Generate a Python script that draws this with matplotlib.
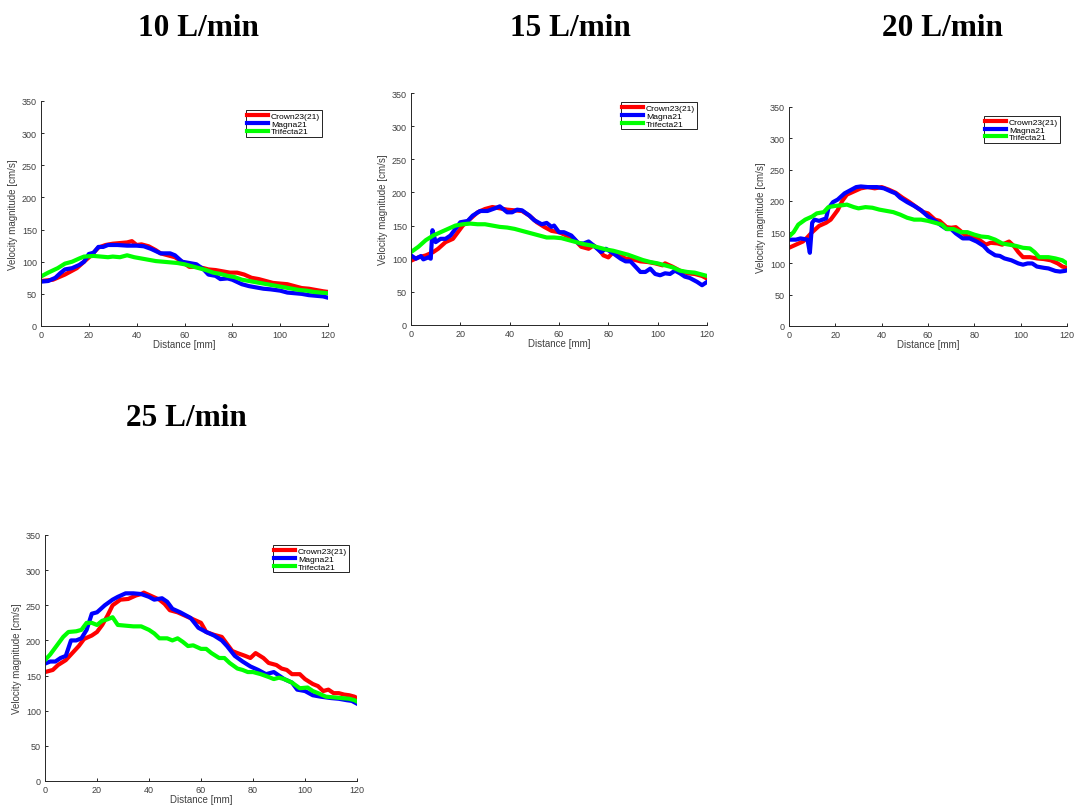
import matplotlib
matplotlib.use('Agg')
import matplotlib.pyplot as plt

# ---- 10 L/min ----
x10_crown = [0, 5, 10, 15, 18, 21, 24, 27, 30, 33, 36, 38, 40, 42, 45, 48, 50, 53, 56, 59, 62, 65, 68, 70, 73, 76, 79, 82, 85, 88, 91, 94, 97, 100, 103, 106, 109, 112, 115, 118, 120]
y10_crown = [70, 72, 80, 90, 100, 110, 122, 126, 128, 129, 130, 132, 126, 127, 124, 118, 113, 110, 107, 100, 92, 92, 90, 88, 87, 85, 83, 83, 80, 75, 73, 70, 67, 66, 65, 62, 59, 58, 56, 54, 53]
x10_magna = [0, 3, 6, 8, 10, 13, 16, 18, 20, 22, 24, 26, 28, 32, 36, 40, 43, 46, 50, 54, 56, 59, 62, 65, 68, 70, 73, 75, 78, 80, 84, 87, 90, 93, 96, 100, 103, 106, 109, 112, 115, 118, 120]
y10_magna = [69, 70, 75, 82, 88, 90, 95, 100, 112, 114, 123, 123, 126, 126, 125, 125, 124, 120, 113, 113, 110, 100, 98, 96, 88, 80, 78, 73, 74, 72, 65, 62, 60, 58, 57, 55, 52, 51, 50, 48, 47, 46, 44]
x10_trif = [0, 3, 7, 10, 13, 16, 18, 22, 25, 28, 30, 33, 36, 39, 42, 45, 48, 51, 54, 57, 60, 63, 66, 69, 72, 75, 78, 81, 84, 87, 90, 93, 96, 99, 102, 105, 108, 111, 114, 117, 120]
y10_trif = [77, 83, 90, 97, 100, 105, 108, 109, 108, 107, 108, 107, 110, 107, 105, 103, 101, 100, 99, 98, 96, 93, 90, 87, 83, 81, 78, 76, 72, 70, 68, 66, 64, 62, 60, 58, 56, 55, 53, 52, 51]

# ---- 15 L/min ----
x15_crown = [0, 3, 6, 9, 11, 14, 17, 19, 21, 24, 27, 30, 33, 36, 39, 42, 45, 48, 51, 54, 57, 60, 63, 66, 69, 72, 74, 76, 78, 80, 82, 84, 87, 90, 93, 96, 99, 102, 103, 106, 109, 112, 115, 118, 120]
y15_crown = [97, 102, 105, 110, 115, 125, 130, 140, 150, 160, 170, 175, 178, 176, 174, 173, 172, 165, 155, 148, 142, 140, 135, 130, 118, 115, 120, 115, 105, 102, 110, 107, 100, 99, 96, 95, 93, 90, 93, 88, 82, 78, 77, 74, 70]
x15_magna = [0, 2, 4, 5, 7, 8, 8.7, 10, 12, 14, 16, 18, 20, 23, 25, 28, 31, 34, 36, 39, 41, 43, 45, 48, 50, 53, 55, 57, 58, 60, 62, 65, 68, 70, 72, 74, 77, 79, 82, 85, 87, 89, 91, 93, 95, 97, 99, 101, 103, 105, 107, 109, 111, 113, 116, 118, 120]
y15_magna = [105, 100, 104, 99, 102, 100, 143, 125, 130, 130, 135, 145, 155, 157, 165, 172, 172, 176, 179, 170, 170, 174, 173, 165, 158, 152, 154, 148, 150, 140, 140, 135, 123, 123, 126, 120, 110, 115, 108, 100, 96, 96, 88, 80, 80, 85, 77, 75, 78, 77, 82, 78, 73, 71, 65, 60, 65]
x15_trif = [0, 3, 6, 9, 12, 15, 18, 21, 24, 27, 30, 33, 36, 39, 42, 45, 48, 52, 55, 58, 61, 64, 67, 70, 73, 76, 79, 82, 85, 88, 91, 94, 97, 100, 103, 106, 109, 112, 115, 117, 120]
y15_trif = [110, 118, 128, 135, 140, 145, 150, 152, 153, 152, 152, 150, 148, 147, 145, 142, 139, 135, 132, 132, 131, 128, 125, 122, 120, 117, 114, 112, 109, 106, 102, 98, 95, 93, 90, 87, 82, 80, 79, 77, 74]

# ---- 20 L/min ----
x20_crown = [0, 3, 6, 8, 10, 13, 16, 18, 21, 23, 25, 28, 31, 34, 37, 40, 43, 46, 49, 52, 55, 58, 60, 63, 65, 68, 70, 72, 74, 76, 78, 80, 82, 85, 87, 90, 92, 95, 97, 99, 101, 104, 107, 110, 113, 116, 118, 120]
y20_crown = [125, 130, 135, 142, 150, 160, 165, 170, 185, 200, 210, 215, 220, 222, 220, 222, 218, 213, 205, 198, 190, 182, 180, 170, 168, 158, 157, 158, 152, 145, 142, 142, 138, 130, 133, 132, 130, 135, 128, 118, 110, 110, 108, 107, 105, 100, 95, 93]
x20_magna = [0, 3, 5, 8, 9, 10, 11, 13, 16, 17, 19, 21, 24, 27, 29, 31, 34, 38, 41, 44, 46, 48, 51, 54, 57, 60, 63, 66, 68, 70, 72, 75, 78, 81, 84, 86, 89, 91, 93, 96, 99, 101, 103, 105, 107, 110, 112, 115, 117, 119, 120]
y20_magna = [138, 138, 140, 138, 117, 165, 170, 168, 172, 188, 198, 202, 212, 218, 222, 223, 222, 222, 220, 215, 212, 205, 198, 192, 185, 175, 168, 160, 155, 155, 148, 140, 140, 135, 128, 120, 113, 112, 108, 105, 100, 98, 100, 100, 95, 93, 92, 88, 87, 88, 89]
x20_trif = [0, 2, 4, 7, 10, 12, 15, 17, 20, 23, 25, 28, 30, 33, 36, 39, 42, 45, 48, 51, 54, 57, 60, 63, 66, 68, 71, 74, 77, 80, 83, 86, 89, 92, 95, 98, 101, 104, 106, 108, 112, 115, 118, 120]
y20_trif = [143, 150, 162, 170, 175, 180, 182, 190, 192, 193, 194, 190, 188, 190, 189, 186, 184, 182, 178, 173, 170, 170, 168, 165, 162, 155, 155, 150, 150, 146, 143, 142, 138, 132, 130, 128, 125, 124, 118, 110, 110, 108, 105, 100]

# ---- 25 L/min ----
x25_crown = [0, 3, 5, 8, 10, 13, 15, 18, 20, 22, 24, 26, 29, 32, 35, 37, 38, 41, 44, 46, 48, 51, 54, 57, 60, 62, 65, 68, 70, 72, 74, 77, 79, 81, 84, 86, 89, 91, 93, 95, 98, 100, 103, 105, 107, 109, 111, 113, 115, 117, 119, 120]
y25_crown = [155, 158, 165, 172, 180, 192, 202, 207, 212, 222, 235, 250, 258, 259, 264, 266, 268, 263, 258, 252, 243, 240, 235, 230, 225, 212, 208, 205, 195, 185, 182, 178, 175, 182, 175, 168, 165, 160, 158, 152, 152, 145, 138, 135, 128, 130, 125, 125, 123, 122, 120, 118]
x25_magna = [0, 2, 4, 6, 8, 10, 12, 14, 16, 18, 20, 23, 26, 28, 31, 34, 37, 40, 42, 45, 47, 49, 52, 56, 59, 62, 65, 68, 70, 73, 76, 79, 82, 85, 88, 90, 92, 95, 97, 100, 103, 106, 110, 113, 116, 118, 120]
y25_magna = [167, 170, 170, 175, 178, 200, 200, 203, 215, 238, 240, 250, 258, 262, 267, 267, 266, 262, 258, 260, 255, 245, 240, 232, 218, 212, 207, 200, 192, 178, 170, 163, 158, 152, 155, 150, 145, 140, 130, 128, 122, 120, 118, 117, 115, 114, 110]
x25_trif = [0, 2, 4, 7, 9, 12, 14, 16, 18, 20, 22, 24, 26, 28, 31, 34, 37, 40, 42, 44, 47, 49, 51, 53, 55, 57, 60, 62, 64, 67, 69, 71, 74, 76, 78, 80, 83, 86, 88, 90, 92, 95, 98, 101, 103, 105, 108, 111, 114, 117, 119, 120]
y25_trif = [172, 180, 190, 205, 212, 213, 215, 225, 225, 222, 228, 230, 233, 222, 221, 220, 220, 215, 210, 203, 203, 200, 203, 198, 192, 193, 188, 188, 182, 175, 175, 168, 160, 158, 155, 155, 152, 148, 145, 147, 145, 140, 132, 133, 128, 125, 120, 119, 118, 117, 115, 113]

names = ['Crown23(21)', 'Magna21', 'Trifecta21']
titles = ['10 L/min', '15 L/min', '20 L/min', '25 L/min']
colori = ['#ff0000', '#0000ff', '#00ff00']

W, H = 1076, 812
fig = plt.figure(figsize=(W / 100, H / 100), dpi=100)
plt.rcParams['font.family'] = ['Liberation Sans', 'DejaVu Sans']

def box(l, t, r, b):
    return [l / W, 1 - b / H, (r - l) / W, (b - t) / H]

# titoli: posizione del centro orizzontale e della linea di base
pannelli = [
    (box(41, 102, 328, 327), (199, 36), (0.979, 0.96),
     [(x10_crown, y10_crown), (x10_magna, y10_magna), (x10_trif, y10_trif)]),
    (box(411, 94, 707, 326), (570, 36), (0.966, 0.961),
     [(x15_crown, y15_crown), (x15_magna, y15_magna), (x15_trif, y15_trif)]),
    (box(789, 108, 1067, 327), (942, 36), (0.975, 0.959),
     [(x20_crown, y20_crown), (x20_magna, y20_magna), (x20_trif, y20_trif)]),
    (box(45, 536, 357, 782), (186, 426), (0.974, 0.959),
     [(x25_crown, y25_crown), (x25_magna, y25_magna), (x25_trif, y25_trif)]),
]

for i, (rect, tpos, lpos, serie) in enumerate(pannelli):
    ax = fig.add_axes(rect)
    for (xx, yy), c, n in zip(serie, colori, names):
        ax.plot(xx, yy, color=c, lw=3, label=n, solid_joinstyle='round')
    ax.set_xlim(0, 120)
    ax.set_ylim(0, 350)
    ax.set_xticks(range(0, 121, 20))
    ax.set_yticks(range(0, 351, 50))
    ax.spines['top'].set_visible(False)
    ax.spines['right'].set_visible(False)
    for s in ['left', 'bottom']:
        ax.spines[s].set_linewidth(0.7)
        ax.spines[s].set_color('#262626')
    ax.tick_params(direction='in', labelsize=6.5, length=2.5, width=0.7,
                   color='#262626', labelcolor='#404040', pad=3)
    ax.set_xlabel('Distance [mm]', fontsize=7, color='#404040', labelpad=0)
    ax.set_ylabel('Velocity magnitude [cm/s]', fontsize=7, color='#404040', labelpad=3)
    leg = ax.legend(loc='upper right', bbox_to_anchor=lpos, borderaxespad=0,
                    fontsize=6.1, handlelength=2.4, handletextpad=0.4,
                    labelspacing=0.0, borderpad=0.2, fancybox=False,
                    framealpha=1, edgecolor='black')
    leg.get_frame().set_linewidth(0.6)
    fig.text(tpos[0] / W, 1 - tpos[1] / H, titles[i], ha='center', va='baseline',
             fontsize=22.5, fontweight='bold', family=['Liberation Serif', 'DejaVu Serif'])

fig.savefig('out.png', dpi=100)
